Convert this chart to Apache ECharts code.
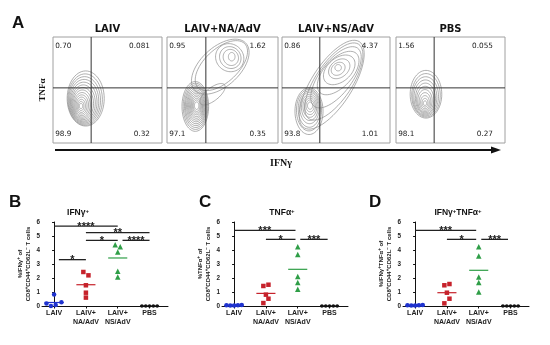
<!DOCTYPE html>
<html><head><meta charset="utf-8">
<script src="https://cdn.jsdelivr.net/npm/echarts@6/dist/echarts.min.js"></script>
<style>html,body{margin:0;padding:0;background:#fff}#c{width:550px;height:345px}</style>
</head><body><div id="c"></div><script>
// ---------------- DATA ----------------
// Panel A : flow cytometry quadrants
const flowGroups = ['LAIV', 'LAIV+NA/AdV', 'LAIV+NS/AdV', 'PBS'];
const quadUL = ['0.70', '0.95', '0.86', '1.56'];
const quadUR = ['0.081', '1.62', '4.37', '0.055'];
const quadLL = ['98.9', '97.1', '93.8', '98.1'];
const quadLR = ['0.32', '0.35', '1.01', '0.27'];
const gateIFNg = 35;   // gate threshold (0-100 display scale)
const gateTNFa = 52;
// contour levels: [centerX, centerY, radiusX, radiusY, angleDeg] on 0-100 display scale
const contourLAIV = [
  [30, 42, 17, 26, 0], [29.5, 41, 15.8, 24.2, 0], [29, 40.2, 14.6, 22.4, 0], [28.6, 39.4, 13.4, 20.6, 0],
  [28.2, 38.6, 12.2, 18.8, 0], [27.8, 37.8, 11, 17, 0], [27.4, 37.2, 9.8, 15.2, 0], [27, 36.6, 8.6, 13.4, 0],
  [26.7, 36, 7.4, 11.6, 0], [26.4, 35.6, 6.2, 9.8, 0], [26.2, 35.3, 5, 8, 0], [26, 35, 3.8, 6.2, 0],
  [25.8, 34.9, 2.6, 4.4, 0], [25.7, 34.9, 1.5, 2.6, 0]
];
const contourNA = [
  [25.5, 34.5, 12, 23.5, 0], [25.7, 34.6, 11.1, 21.8, 0], [25.9, 34.7, 10.2, 20.1, 0], [26, 34.8, 9.4, 18.4, 0],
  [26.2, 34.9, 8.6, 16.7, 0], [26.3, 35, 7.8, 15, 0], [26.4, 35, 7, 13.4, 0], [26.5, 35.1, 6.2, 11.8, 0],
  [26.6, 35.1, 5.4, 10.2, 0], [26.6, 35.2, 4.6, 8.6, 0], [26.7, 35.2, 3.8, 7, 0], [26.7, 35.2, 3, 5.4, 0],
  [26.7, 35.2, 2, 3.6, 0],
  [48, 72, 32, 18, 45], [49, 73, 29.5, 15.5, 45],
  [56.5, 80.5, 12.5, 13.5, 30], [57, 80.6, 9.5, 10.5, 25], [57.5, 80.7, 6.8, 7.7, 20], [58.3, 81.4, 3, 4, 0],
  [41, 46, 14, 6, 40]
];
const contourNS = [
  [25, 30, 13, 22, 0], [25, 31, 11.6, 19.6, 0], [25.3, 32, 10.3, 17.2, 0], [25.5, 33, 9, 14.8, 0],
  [25.7, 33.6, 7.7, 12.4, 0], [25.8, 34.2, 6.4, 10, 0], [25.9, 34.6, 5.1, 7.8, 0], [26, 35, 3.8, 5.6, 0],
  [26, 35.2, 2.4, 3.4, 0],
  [46, 55, 48, 19, 58], [48, 58, 42, 17, 57], [50, 62, 34, 15, 54], [52, 66, 25, 13, 48],
  [53, 69, 17, 11, 42], [53, 70, 11, 8, 40], [52, 70, 7, 5.5, 40], [52, 71, 3, 3, 0]
];
const contourPBS = [
  [27.5, 46, 14.5, 22.5, 0], [27.5, 45, 13.1, 20.5, 0], [27.2, 44, 11.8, 18.5, 0], [27, 43, 10.5, 16.5, 0],
  [27, 42, 9.2, 14.5, 0], [26.8, 41, 7.9, 12.5, 0], [26.6, 40, 6.6, 10.4, 0], [26.6, 39.2, 5.3, 8.3, 0],
  [26.6, 38.5, 4, 6.2, 0], [26.6, 38, 2.7, 4.1, 0], [26.6, 37.6, 1.5, 2.2, 0]
];

// Panels B-D : dot plots
const categories = ['LAIV', 'LAIV+\nNA/AdV', 'LAIV+\nNS/AdV', 'PBS'];
const yTicks = [0, 1, 2, 3, 4, 5, 6];

const ifngLAIV = [0.83, 0.17, 0.0, 0.08, 0.26];
const ifngNA   = [2.43, 2.19, 1.48, 0.95, 0.60];
const ifngNS   = [4.38, 4.24, 3.86, 2.48, 2.07];
const ifngPBS  = [0, 0, 0, 0, 0];
const ifngMeans = [0.25, 1.52, 3.43, 0];
const ifngSig = [[0, 2, 5.71], [1, 3, 5.24], [1, 2, 4.69], [2.15, 3, 4.69], [0.15, 1, 3.31]];
const ifngSigLabels = ['****', '**', '*', '****', '*'];

const tnfLAIV = [0.06, 0.04, 0.03, 0.05, 0.08];
const tnfNA   = [1.43, 1.52, 0.81, 0.52, 0.21];
const tnfNS   = [4.24, 3.67, 2.10, 1.67, 1.19];
const tnfPBS  = [0, 0, 0, 0, 0];
const tnfMeans = [0.05, 0.90, 2.62, 0];
const tnfSig = [[0, 1.93, 5.4], [1, 1.93, 4.76], [2.08, 2.94, 4.76]];
const tnfSigLabels = ['***', '*', '***'];

const dualLAIV = [0.06, 0.03, 0.04, 0.05, 0.07];
const dualNA   = [1.48, 1.57, 0.95, 0.52, 0.19];
const dualNS   = [4.24, 3.57, 2.07, 1.67, 1.00];
const dualPBS  = [0, 0, 0, 0, 0];
const dualMeans = [0.05, 0.95, 2.55, 0];
const dualSig = [[0, 1.92, 5.4], [1, 1.92, 4.76], [2.08, 2.92, 4.76]];
const dualSigLabels = ['***', '*', '***'];

// horizontal spread of the dots inside each column (category units)
const spreadWide   = [-0.24, -0.12, 0, 0.12, 0.24];
const spreadB_LAIV = [0, -0.24, -0.1, 0.05, 0.23];
const spreadPair   = [-0.08, 0.08, 0, 0, 0];
const spreadAlt    = [-0.08, 0.08, 0, 0.08, -0.08];
const spreadNone   = [0, 0, 0, 0, 0];

// ---------------- STYLE ----------------
const SANS = 'Liberation Sans, Arial, sans-serif';
const groupColors = ['#1f33cf', '#c6222b', '#2f9e47', '#111111'];
const groupSymbols = ['circle', 'rect', 'triangle', 'circle'];
const groupSizes = [4.5, 4.5, 5.5, 3.6];

const chart = echarts.init(document.getElementById('c'), null, { renderer: 'canvas' });

const flowBoxes = [
  { left: 53, top: 37, width: 109, height: 106 },
  { left: 167, top: 37, width: 111, height: 106 },
  { left: 282, top: 37, width: 108, height: 106 },
  { left: 396, top: 37, width: 109, height: 106 }
];
const dotBoxes = [
  { left: 42, top: 222, width: 126, height: 84 },
  { left: 222, top: 222, width: 126, height: 84 },
  { left: 403, top: 222, width: 126, height: 84 }
];

const grids = [], xAxes = [], yAxes = [], series = [];

function ellipseRender(params, api) {
  const cx = api.value(0), cy = api.value(1), rx = api.value(2), ry = api.value(3);
  const a = api.value(4) * Math.PI / 180;
  const pts = [];
  for (let i = 0; i < 60; i++) {
    const t = i / 60 * Math.PI * 2;
    const x = cx + rx * Math.cos(t) * Math.cos(a) - ry * Math.sin(t) * Math.sin(a);
    const y = cy + rx * Math.cos(t) * Math.sin(a) + ry * Math.sin(t) * Math.cos(a);
    pts.push(api.coord([x, y]));
  }
  return { type: 'polygon', shape: { points: pts }, style: { fill: 'none', stroke: '#8d8d8d', lineWidth: 0.7 } };
}

function txt(x, y, text, opt) {
  return {
    type: 'text', x: x, y: y,
    style: Object.assign({
      text: text, fill: '#222', fontSize: 7.3, fontFamily: 'DejaVu Sans',
      align: 'left', verticalAlign: 'middle', textAlign: 'left', textVerticalAlign: 'middle'
    }, opt || {})
  };
}

const contours = [contourLAIV, contourNA, contourNS, contourPBS];
flowBoxes.forEach((b, i) => {
  grids.push(Object.assign({ show: true, borderColor: '#a0a0a0', borderWidth: 1, backgroundColor: 'transparent' }, b));
  xAxes.push({ gridIndex: i, type: 'value', min: 0, max: 100, show: false });
  yAxes.push({ gridIndex: i, type: 'value', min: 0, max: 100, show: false });
  series.push({
    type: 'custom', xAxisIndex: i, yAxisIndex: i, silent: true,
    renderItem: ellipseRender, data: contours[i]
  });
  series.push({
    type: 'custom', xAxisIndex: i, yAxisIndex: i, silent: true, z: 5,
    data: [[gateIFNg, gateTNFa]],
    renderItem: function (params, api) {
      const gx = api.value(0), gy = api.value(1);
      const v0 = api.coord([gx, 0]), v1 = api.coord([gx, 100]);
      const h0 = api.coord([0, gy]), h1 = api.coord([100, gy]);
      const tl = api.coord([2, 91.5]), tr = api.coord([89, 91.5]);
      const bl = api.coord([2, 8.3]), br = api.coord([89, 8.3]);
      const top = api.coord([50, 100]);
      return {
        type: 'group', children: [
          { type: 'line', shape: { x1: v0[0], y1: v0[1], x2: v1[0], y2: v1[1] }, style: { stroke: '#333', lineWidth: 1 } },
          { type: 'line', shape: { x1: h0[0], y1: h0[1], x2: h1[0], y2: h1[1] }, style: { stroke: '#333', lineWidth: 1 } },
          txt(tl[0], tl[1], quadUL[i]),
          txt(tr[0], tr[1], quadUR[i], { align: 'right', textAlign: 'right' }),
          txt(bl[0], bl[1], quadLL[i]),
          txt(br[0], br[1], quadLR[i], { align: 'right', textAlign: 'right' }),
          txt(top[0], top[1] - 8, flowGroups[i], {
            align: 'center', textAlign: 'center', fontSize: 10, fontWeight: 'bold', fill: '#111'
          })
        ]
      };
    }
  });
});

const dotPanels = [
  { vals: [ifngLAIV, ifngNA, ifngNS, ifngPBS], spreads: [spreadB_LAIV, spreadPair, spreadPair, spreadWide], means: ifngMeans, sig: ifngSig, sigLab: ifngSigLabels,
    yname: '{a|%IFNγ}{s|+}{a| of}\n{a|CD8}{s|+}{a|CD44}{s|+}{a|CD62L}{s|−}{a| T cells}' },
  { vals: [tnfLAIV, tnfNA, tnfNS, tnfPBS], spreads: [spreadWide, spreadAlt, spreadNone, spreadWide], means: tnfMeans, sig: tnfSig, sigLab: tnfSigLabels,
    yname: '{a|%TNFα}{s|+}{a| of}\n{a|CD8}{s|+}{a|CD44}{s|+}{a|CD62L}{s|−}{a| T cells}' },
  { vals: [dualLAIV, dualNA, dualNS, dualPBS], spreads: [spreadWide, spreadAlt, spreadNone, spreadWide], means: dualMeans, sig: dualSig, sigLab: dualSigLabels,
    yname: '{a|%IFNγ}{s|+}{a|TNFα}{s|+}{a| of}\n{a|CD8}{s|+}{a|CD44}{s|+}{a|CD62L}{s|−}{a| T cells}' }
];

dotPanels.forEach((p, k) => {
  const gi = 4 + k;
  grids.push(Object.assign({ show: false }, dotBoxes[k]));
  xAxes.push({
    gridIndex: gi, type: 'value', min: -0.38, max: 3.58,
    axisLine: { show: true, lineStyle: { color: '#111', width: 1 } },
    axisTick: { show: true, customValues: [0, 1, 2, 3], length: 2.5, lineStyle: { color: '#111' } },
    axisLabel: {
      customValues: [0, 1, 2, 3], formatter: v => categories[Math.round(v)],
      fontSize: 7, fontWeight: 'bold', color: '#222', fontFamily: SANS, margin: 3, lineHeight: 8.5
    },
    splitLine: { show: false }
  });
  yAxes.push({
    gridIndex: gi, type: 'value', min: yTicks[0], max: yTicks[yTicks.length - 1], interval: 1,
    axisLine: { show: true, lineStyle: { color: '#111', width: 1 } },
    axisTick: { show: true, length: 2, lineStyle: { color: '#111' } },
    axisLabel: { fontSize: 6.3, fontWeight: 'bold', color: '#222', fontFamily: SANS, margin: 2 },
    splitLine: { show: false },
    name: p.yname, nameLocation: 'middle', nameRotate: 90, nameGap: 9,
    nameTextStyle: {
      rich: {
        a: { fontSize: 6, fontWeight: 'bold', fontFamily: SANS, color: '#222', lineHeight: 8.5 },
        s: { fontSize: 4.5, fontWeight: 'bold', fontFamily: SANS, color: '#222', lineHeight: 8.5, verticalAlign: 'top', padding: [0, 0, 3, 0] }
      }
    }
  });
  // mean lines
  series.push({
    type: 'custom', xAxisIndex: gi, yAxisIndex: gi, silent: true,
    data: p.means.map((m, i) => [i, m]),
    renderItem: function (params, api) {
      const x = api.value(0), y = api.value(1);
      const a = api.coord([x - 0.3, y]), b = api.coord([x + 0.3, y]);
      return { type: 'line', shape: { x1: a[0], y1: a[1], x2: b[0], y2: b[1] }, style: { stroke: groupColors[params.dataIndex], lineWidth: 1.2 } };
    }
  });
  // dots
  p.vals.forEach((arr, g) => {
    series.push({
      type: 'scatter', xAxisIndex: gi, yAxisIndex: gi, silent: true,
      symbol: groupSymbols[g], symbolSize: groupSizes[g],
      itemStyle: { color: groupColors[g], opacity: 1 },
      data: arr.map((v, j) => [g + p.spreads[g][j], v]), z: 4
    });
  });
  // significance bars
  series.push({
    type: 'custom', xAxisIndex: gi, yAxisIndex: gi, silent: true, z: 6,
    data: p.sig,
    renderItem: function (params, api) {
      const a = api.coord([api.value(0), api.value(2)]), b = api.coord([api.value(1), api.value(2)]);
      return {
        type: 'group', children: [
          { type: 'line', shape: { x1: a[0], y1: a[1], x2: b[0], y2: b[1] }, style: { stroke: '#222', lineWidth: 1.3 } },
          txt((a[0] + b[0]) / 2, a[1] + 6, p.sigLab[params.dataIndex], {
            align: 'center', textAlign: 'center', verticalAlign: 'bottom', textVerticalAlign: 'bottom',
            fontSize: 11, fontWeight: 'bold', fontFamily: SANS, fill: '#222'
          })
        ]
      };
    }
  });
});

const richTitle = {
  a: { fontSize: 8.5, fontWeight: 'bold', fontFamily: SANS, color: '#111' },
  s: { fontSize: 6, fontWeight: 'bold', fontFamily: SANS, color: '#111', verticalAlign: 'top', padding: [0, 0, 4, 0] }
};
function letter(t, x, y) {
  return { text: t, left: x, top: y, textStyle: { fontSize: 17, fontWeight: 'bold', fontFamily: SANS, color: '#111' } };
}
function ptitle(t, x) {
  return { text: t, left: x, top: 203, textAlign: 'center', textStyle: { rich: richTitle } };
}

chart.setOption({
  animation: false,
  backgroundColor: '#fff',
  title: [
    letter('A', 7, 10), letter('B', 4, 189), letter('C', 194, 189), letter('D', 364, 189),
    ptitle('{a|IFNγ}{s|+}', 73), ptitle('{a|TNFα}{s|+}', 277), ptitle('{a|IFNγ}{s|+}{a|TNFα}{s|+}', 453)
  ],
  grid: grids, xAxis: xAxes, yAxis: yAxes, series: series,
  graphic: [
    { type: 'line', shape: { x1: 55, y1: 150, x2: 493, y2: 150 }, style: { stroke: '#111', lineWidth: 2 } },
    { type: 'polygon', shape: { points: [[491, 146.5], [501, 150], [491, 153.5]] }, style: { fill: '#111' } },
    { type: 'text', x: 43, y: 90, rotation: Math.PI / 2,
      style: { text: 'TNFα', font: 'bold 9px Liberation Serif', fill: '#111', align: 'center', verticalAlign: 'middle', textAlign: 'center', textVerticalAlign: 'middle' } },
    { type: 'text', x: 281, y: 163,
      style: { text: 'IFNγ', font: 'bold 10px Liberation Serif', fill: '#111', align: 'center', verticalAlign: 'middle', textAlign: 'center', textVerticalAlign: 'middle' } }
  ]
});
</script></body></html>
